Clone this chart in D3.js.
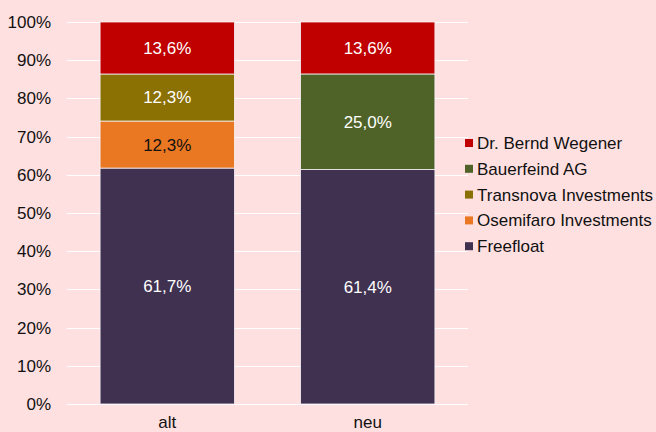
<!DOCTYPE html>
<html><head><meta charset="utf-8">
<script src="https://cdn.jsdelivr.net/npm/d3@7"></script>
<style>html,body{margin:0;padding:0;background:#FFE0E0;}svg{display:block;font-family:"Liberation Sans",Arial,sans-serif;}</style>
</head><body>
<svg id="c" width="656" height="432"></svg>
<script>
const categories = ["alt", "neu"];
const seriesNames = ["Freefloat", "Osemifaro Investments", "Transnova Investments", "Bauerfeind AG", "Dr. Bernd Wegener"];
const freefloat = [61.7, 61.4];
const osemifaro = [12.3, 0];
const transnova = [12.3, 0];
const bauerfeind = [0, 25.0];
const wegener = [13.6, 13.6];
const yTicks = [0, 10, 20, 30, 40, 50, 60, 70, 80, 90, 100];
const colors = ["#403151", "#EA7722", "#8B7004", "#4F6228", "#C00000"];
const labelColors = ["#fff", "#111", "#fff", "#fff", "#fff"];

const seriesValues = [freefloat, osemifaro, transnova, bauerfeind, wegener];
const table = categories.map((c, i) => {
  const o = {cat: c};
  seriesNames.forEach((s, j) => o[s] = seriesValues[j][i]);
  return o;
});

const FONT = "'Liberation Sans', Arial, sans-serif";
const FS = 17;
const svg = d3.select("#c");
const mLeft = 67, mRight = 468, mTop = 22, mBottom = 404;
const x = d3.scaleBand().domain(categories).range([mLeft, mRight]).paddingInner(0.33).paddingOuter(0.165);
const y = d3.scaleLinear().domain([0, 1]).range([mBottom, mTop]);

const stack = d3.stack().keys(seriesNames).offset(d3.stackOffsetExpand);
const stacked = stack(table);

// gridlines
svg.append("g").selectAll("line").data(yTicks).join("line")
  .attr("x1", mLeft).attr("x2", mRight)
  .attr("y1", d => Math.round(y(d / 100)) + 0.5).attr("y2", d => Math.round(y(d / 100)) + 0.5)
  .attr("stroke", "#fff").attr("stroke-width", 1);

// y axis labels
const yAxis = d3.axisLeft(y).tickValues(yTicks.map(d => d / 100)).tickFormat(d => Math.round(d * 100) + "%").tickSize(0).tickPadding(0);
const ya = svg.append("g").attr("transform", `translate(51,0)`).call(yAxis);
ya.select(".domain").remove();
ya.selectAll("text").attr("font-size", FS).attr("fill", "#111").attr("font-family", FONT);

// x axis labels
const xAxis = d3.axisBottom(x).tickSize(0).tickPadding(0);
const xa = svg.append("g").attr("transform", `translate(0,${mBottom + 12})`).call(xAxis);
xa.select(".domain").remove();
xa.selectAll("text").attr("font-size", FS).attr("fill", "#111").attr("font-family", FONT);

// bars
const g = svg.append("g");
stacked.forEach((layer, j) => {
  layer.forEach((d, i) => {
    if (seriesValues[j][i] <= 0) return;
    const cat = categories[i];
    g.append("rect")
      .attr("x", x(cat)).attr("width", x.bandwidth())
      .attr("y", y(d[1])).attr("height", y(d[0]) - y(d[1]))
      .attr("fill", colors[j]).attr("stroke", "#f4f0f4").attr("stroke-width", 0.8);
  });
});
stacked.forEach((layer, j) => {
  layer.forEach((d, i) => {
    const v = seriesValues[j][i];
    if (v <= 0) return;
    const cat = categories[i];
    g.append("text")
      .attr("x", x(cat) + x.bandwidth() / 2)
      .attr("y", (y(d[0]) + y(d[1])) / 2)
      .attr("dy", "0.35em").attr("text-anchor", "middle")
      .attr("font-size", FS).attr("font-family", FONT).attr("fill", labelColors[j])
      .text(v.toFixed(1).replace(".", ",") + "%");
  });
});

// legend
const legendOrder = seriesNames.slice().reverse();
const lg = svg.append("g").attr("transform", "translate(465,143)");
legendOrder.forEach((s, k) => {
  const j = seriesNames.indexOf(s);
  const row = lg.append("g").attr("transform", `translate(0,${k * 25.8})`);
  row.append("rect").attr("x", 0).attr("y", -4).attr("width", 8).attr("height", 8).attr("fill", colors[j]);
  row.append("text").attr("x", 12).attr("y", 0).attr("dy", "0.35em").attr("font-size", FS).attr("font-family", FONT).attr("fill", "#111").text(s);
});
</script>
</body></html>
